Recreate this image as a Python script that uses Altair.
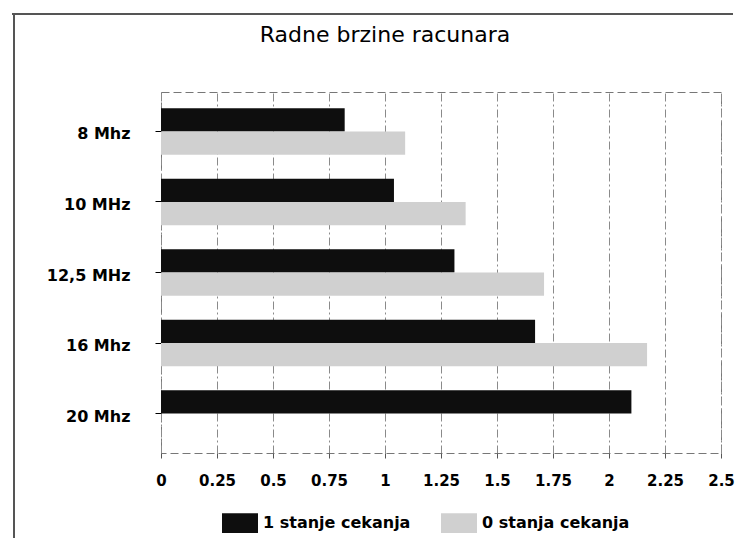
import altair as alt
import pandas as pd

title_text = "Radne brzine racunara"
frequencies = ["8 Mhz", "10 MHz", "12,5 MHz", "16 Mhz", "20 Mhz"]
series_names = ["1 stanje cekanja", "0 stanja cekanja"]
one_wait_state = [0.82, 1.04, 1.31, 1.67, 2.10]
zero_wait_states = [1.09, 1.36, 1.71, 2.17, None]
x_ticks = [0, 0.25, 0.5, 0.75, 1, 1.25, 1.5, 1.75, 2, 2.25, 2.5]
colors = ["#0e0e0e", "#d0d0d0"]

rows = []
for f, a, b in zip(frequencies, one_wait_state, zero_wait_states):
    rows.append({"freq": f, "series": series_names[0], "value": a})
    if b is not None:
        rows.append({"freq": f, "series": series_names[1], "value": b})
df = pd.DataFrame(rows)

W, H = 560, 361
FONT = "DejaVu Sans"

bars = alt.Chart(df).mark_bar().encode(
    x=alt.X(
        "value:Q",
        scale=alt.Scale(domain=[0, 2.5], nice=False, zero=True),
        axis=alt.Axis(
            values=x_ticks, labelExpr="'' + datum.value", title=None,
            labelFont=FONT, labelFontSize=15, labelFontWeight="bold",
            labelColor="black", domain=False, tickSize=5, tickColor="#555",
            labelPadding=15, grid=True, gridColor="#8a8a8a",
            gridDash=[8, 3, 2, 3], labelFlush=False,
        ),
    ),
    y=alt.Y(
        "freq:N", sort=frequencies,
        scale=alt.Scale(paddingInner=0.34, paddingOuter=0.23),
        axis=alt.Axis(
            title=None, labelFont=FONT, labelFontSize=16, labelFontWeight="bold",
            labelColor="black", domain=False, ticks=True, tickSize=6,
            tickColor="black", labelPadding=25, labelOffset=3,
        ),
    ),
    yOffset=alt.YOffset("series:N", sort=series_names,
                        scale=alt.Scale(domain=series_names, paddingInner=0, paddingOuter=0)),
    color=alt.Color(
        "series:N", sort=series_names,
        scale=alt.Scale(domain=series_names, range=colors),
        legend=alt.Legend(
            orient="none", legendX=61, legendY=413, direction="horizontal",
            title=None, symbolType="M-1,-0.55L1,-0.55L1,0.55L-1,0.55Z",
            symbolSize=1296, symbolStrokeWidth=0, symbolOpacity=1,
            labelFont=FONT, labelFontSize=16, labelFontWeight="bold",
            labelColor="black", columnPadding=30, labelOffset=5, padding=0,
        ),
    ),
)

frame_data = alt.Data(values=[{"k": 0}])
left_frame = alt.Chart(frame_data).mark_rule(color="#555", strokeWidth=2).encode(
    x=alt.value(-147), y=alt.value(-78), y2=alt.value(446)
)
top_frame = alt.Chart(frame_data).mark_rule(color="#555", strokeWidth=2).encode(
    x=alt.value(-149), x2=alt.value(572), y=alt.value(-78)
)
title_mark = alt.Chart(frame_data).mark_text(
    font=FONT, fontSize=22, fontWeight="normal", color="black",
    align="center", baseline="middle",
).encode(x=alt.value(224), y=alt.value(-57), text=alt.value(title_text))

chart = alt.layer(bars, left_frame, top_frame, title_mark).properties(
    width=W, height=H,
    padding={"left": 3, "top": 5, "right": 0, "bottom": 0},
).configure_view(stroke="#777", strokeDash=[8, 4], strokeWidth=1)

chart.save("out.html", embed_options={"renderer": "svg", "actions": False})
